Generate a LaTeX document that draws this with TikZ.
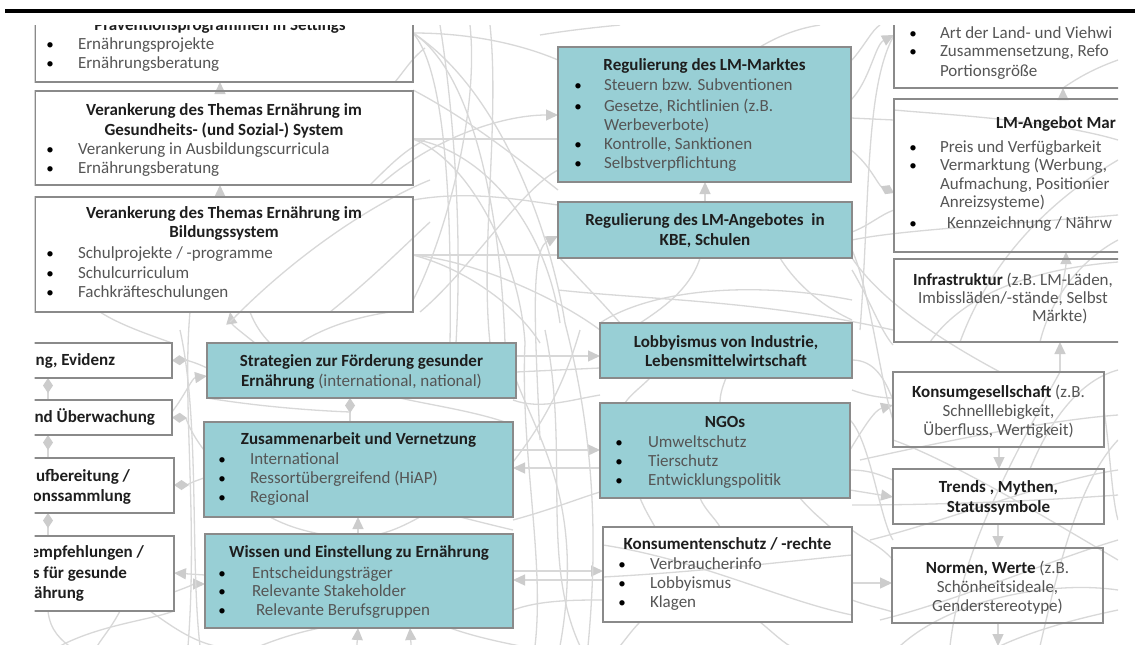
\documentclass[tikz,border=0pt]{standalone}
\usepackage{fontspec}
\setmainfont{Carlito}
\usetikzlibrary{arrows.meta}

\definecolor{boxfill}{RGB}{152,207,213}
\definecolor{boxline}{RGB}{138,138,138}
\definecolor{wirec}{RGB}{216,216,216}
\definecolor{tipc}{RGB}{204,204,204}
\definecolor{titlec}{RGB}{30,30,30}
\definecolor{itemc}{RGB}{85,85,85}

\pgfdeclarelayer{paper}
\pgfdeclarelayer{bg}
\pgfsetlayers{paper,bg,main}

\tikzset{
  every node/.style={inner sep=0pt, outer sep=0pt},
  wbox/.style={draw=boxline, line width=1.1pt},
  tbox/.style={draw=boxline, fill=boxfill, line width=1.1pt},
  wire/.style={draw=wirec, line width=1.3pt},
  endtri/.style={-{Triangle[length=12pt,width=11pt,color=tipc]}},
  enddia/.style={-{Diamond[length=15pt,width=10pt,color=tipc]}},
  ttl/.style={font=\fontsize{17}{20}\selectfont\bfseries, text=titlec},
  itm/.style={font=\fontsize{17}{20}\selectfont, text=itemc},
  blt/.style={font=\fontsize{15}{20}\selectfont, text=black},
}

% box: name, style, x1, y1, x2, y2 (y grows downwards)
\newcommand\bx[6]{\node[#2, minimum width={(#5)-(#3)}, minimum height={(#6)-(#4)}]
  (#1) at ({((#3)+(#5))/2},{((#4)+(#6))/2}) {};}
\newcounter{tl}
\newcommand\tcen[4][ttl]{\stepcounter{tl}\node[#1,anchor=base] (t\arabic{tl}) at (#2,#3) {#4};}
\newcommand\tline[4][itm]{\stepcounter{tl}\node[#1,anchor=base west] (t\arabic{tl}) at (#2,#3) {#4};}
\newcommand\tend[4][ttl]{\stepcounter{tl}\node[#1,anchor=base east] (t\arabic{tl}) at (#2,#3) {#4};}
\newcommand\tbul[4]{\stepcounter{tl}\node[blt,anchor=base] (t\arabic{tl}) at (#1,#3) {•};
  \stepcounter{tl}\node[itm,anchor=base west] (t\arabic{tl}) at (#2,#3) {#4};}

\begin{document}
\begin{tikzpicture}[x=1pt,y=-1pt]
\useasboundingbox (0,0) rectangle (1135,645);
\begin{pgfonlayer}{paper}
\fill[white] (0,0) rectangle (1135,645);
\end{pgfonlayer}
\draw[line width=4.2pt] (5,11) -- (1135,11);

\begin{scope}
\clip (34.5,25) rectangle (1118,646);

% left column
\bx{b1}{wbox}{35}{5}{413}{82}
\bx{b2}{wbox}{35}{91}{413}{185}
\bx{b3}{wbox}{35}{197}{413}{312}
\bx{c1}{wbox}{-100}{343}{172}{378}
\bx{c2}{wbox}{-100}{400}{172}{435}
\bx{c3}{wbox}{-100}{458}{174}{513}
\bx{c4}{wbox}{-100}{536}{174}{611}
% strategy column
\bx{l1}{tbox}{207}{343}{516}{398}
\bx{l2}{tbox}{204}{422}{513}{517}
\bx{l3}{tbox}{205}{534}{513}{628}
% regulation column
\bx{m1}{tbox}{558}{47}{851}{182}
\bx{m2}{tbox}{558}{202}{852}{258}
\bx{m3}{tbox}{600}{323}{852}{378}
\bx{m4}{tbox}{600}{403}{850}{498}
\bx{m5}{wbox}{603}{527}{852}{622}
% environment column
\bx{r1}{wbox}{894}{5}{1300}{88}
\bx{r2}{wbox}{894}{99}{1300}{252}
\bx{r3}{wbox}{894}{259}{1300}{342}
\bx{r4}{wbox}{893}{372}{1104}{447}
\bx{r5}{wbox}{893}{469}{1104}{524}
\bx{r6}{wbox}{892}{548}{1103}{623}

% texts
\tcen{220}{30.5}{Präventionsprogrammen in Settings}
\tbul{50}{78}{49.5}{Ernährungsprojekte}
\tbul{50}{78}{68.5}{Ernährungsberatung}

\tcen{224}{115}{Verankerung des Themas Ernährung im}
\tcen{224}{135}{Gesundheits- (und Sozial-) System}
\tbul{50}{78}{154}{Verankerung in Ausbildungscurricula}
\tbul{50}{78}{173}{Ernährungsberatung}

\tcen{224}{218}{Verankerung des Themas Ernährung im}
\tcen{224}{237}{Bildungssystem}
\tbul{50}{78}{258}{Schulprojekte / -programme}
\tbul{50}{78}{278}{Schulcurriculum}
\tbul{50}{78}{297}{Fachkräfteschulungen}

\tend{115}{365}{ng, Evidenz}
\tend{155}{422}{nd Überwachung}
\tend{130}{481}{ufbereitung /}
\tend{131}{501}{onssammlung}
\tend{144}{557}{empfehlungen /}
\tend{127}{578}{s für gesunde}
\tend{84}{598}{ährung}

\tcen{361.5}{366}{Strategien zur Förderung gesunder}
\tcen{361.5}{386}{Ernährung {\mdseries\color{itemc}(international, national)}}

\tcen{358.5}{444}{Zusammenarbeit und Vernetzung}
\tbul{222}{250}{464}{International}
\tbul{222}{250}{483}{Ressortübergreifend (HiAP)}
\tbul{222}{250}{502}{Regional}

\tcen{359}{557}{Wissen und Einstellung zu Ernährung}
\tbul{222}{252}{578}{Entscheidungsträger}
\tbul{222}{252}{596}{Relevante Stakeholder}
\tbul{222}{256}{615}{Relevante Berufsgruppen}

\tcen{704.5}{70}{Regulierung des LM-Marktes}
\tbul{578}{604}{90}{Steuern bzw. Subventionen}
\tbul{578}{604}{111}{Gesetze, Richtlinien (z.B.}
\tline{604}{130}{Werbeverbote)}
\tbul{578}{604}{149}{Kontrolle, Sanktionen}
\tbul{578}{604}{168}{Selbstverpflichtung}

\tcen{705}{225}{Regulierung des LM-Angebotes\ \ in}
\tcen{705}{245}{KBE, Schulen}

\tcen{726}{347}{Lobbyismus von Industrie,}
\tcen{726}{366}{Lebensmittelwirtschaft}

\tcen{725}{427}{NGOs}
\tbul{619}{648}{447}{Umweltschutz}
\tbul{619}{648}{466}{Tierschutz}
\tbul{619}{648}{485}{Entwicklungspolitik}

\tcen{727.5}{549}{Konsumentenschutz / -rechte}
\tbul{622}{650}{569}{Verbraucherinfo}
\tbul{622}{650}{588}{Lobbyismus}
\tbul{622}{650}{607}{Klagen}

\tbul{913}{940}{38}{Art der Land- und Viehwi}
\tbul{913}{940}{56}{Zusammensetzung, Refo}
\tline{940}{76}{Portionsgröße}

\tline[ttl]{996}{128}{LM-Angebot Mar}
\tbul{913}{940}{152}{Preis und Verfügbarkeit}
\tbul{913}{940}{170}{Vermarktung (Werbung,}
\tline{940}{189}{Aufmachung, Positionier}
\tline{940}{207}{Anreizsysteme)}
\tbul{913}{947}{228}{Kennzeichnung / Nährw}

\tline{913}{285}{{\bfseries\color{titlec}Infrastruktur} (z.B. LM-Läden,}
\tline{918}{303}{Imbissläden/-stände, Selbst}
\tline{1032}{321}{Märkte)}

\tcen{998.5}{397}{Konsumgesellschaft {\mdseries\color{itemc}(z.B.}}
\tcen[itm]{998.5}{416}{Schnelllebigkeit,}
\tcen[itm]{998.5}{435}{Überfluss, Wertigkeit)}

\tcen{998.5}{492}{Trends , Mythen,}
\tcen{998.5}{512}{Statussymbole}

\tcen{997.5}{573}{Normen, Werte {\mdseries\color{itemc}(z.B.}}
\tcen[itm]{997.5}{592}{Schönheitsideale,}
\tcen[itm]{997.5}{611}{Genderstereotype)}
\end{scope}

% connectors, drawn underneath the boxes
\begin{pgfonlayer}{bg}
\begin{scope}
\clip (34.5,25) rectangle (1118,646);

% arrows between neighbouring boxes
\draw[wire,endtri] (b2.north -| 220,0) -- (b1.south -| 220,0);
\draw[wire,endtri] (b3.north -| 220,0) -- (b2.south -| 220,0);
\draw[wire,endtri] (l1.north -| 255,0) .. controls (245,335) and (232,325) .. (b3.south -| 230,0);
\draw[wire,enddia] (c2.north -| 48,0) -- (c1.south -| 48,0);
\draw[wire,enddia] (c3.north -| 48,0) -- (c2.south -| 48,0);
\draw[wire,enddia] (c4.north -| 48,0) -- (c3.south -| 48,0);
\draw[wire,enddia] (l1.west |- 0,368) .. controls (195,362) and (185,360) .. (c1.east);
\draw[wire,endtri] (c2.east |- 0,412) .. controls (185,395) and (192,378) .. (l1.west |- 0,376);
\draw[wire,enddia] (l2.west |- 0,450) .. controls (190,432) and (186,418) .. (c2.east);
\draw[wire,enddia] (l2.west |- 0,478) .. controls (192,482) and (186,485) .. (c3.east |- 0,485);
\draw[wire,endtri] (l3.west |- 0,575) -- (c4.east |- 0,573);
\draw[wire,endtri] (c4.east |- 0,592) .. controls (185,588) and (195,584) .. (l3.west |- 0,584);
\draw[wire,enddia] (l2.north -| 350,0) -- (l1.south -| 350,0);
\draw[wire,endtri] (l3.north -| 358,0) -- (l2.south -| 358,0);
\coordinate (lb1) at (356,660);
\coordinate (lb2) at (412,660);
\draw[wire,endtri] (lb1) -- (l3.south -| 358,0);
\draw[wire,endtri] (lb2) -- (l3.south -| 410,0);
\draw[wire,endtri] (b2.south -| 380,0) .. controls (430,140) and (500,115) .. (m1.west |- 0,115);
\coordinate (lm1) at (540,440);
\draw[wire,endtri] (lm1) .. controls (535,330) and (530,250) .. (m2.west |- 0,236);
\draw[wire] (b2.east |- 0,139) -- (m1.west |- 0,139);
\draw[wire] (b3.east |- 0,255) -- (m2.west |- 0,255);
\draw[wire,endtri] (m2.north -| 705,0) -- (m1.south -| 705,0);
\draw[wire,endtri] (l1.east |- 0,356) -- (m3.west |- 0,356);
\draw[wire] (l1.east |- 0,372) -- (m3.west |- 0,368);
\draw[wire,endtri] (l2.east |- 0,450) -- (m4.west |- 0,450);
\draw[wire,endtri] (m4.west |- 0,468) -- (l2.east |- 0,468);
\draw[wire,endtri] (l3.east |- 0,571) -- (m5.west |- 0,571);
\draw[wire,endtri] (m5.west |- 0,580) -- (l3.east |- 0,580);
\draw[wire,endtri] (m1.east |- 0,100) .. controls (870,80) and (875,45) .. (r1.west |- 0,35);
\draw[wire,enddia] (m1.east |- 0,150) .. controls (870,165) and (878,185) .. (r2.west |- 0,193);
\draw[wire,endtri] (m4.east |- 0,450) .. controls (865,425) and (875,410) .. (r4.west |- 0,405);
\draw[wire,endtri] (m4.east |- 0,490) -- (r5.west |- 0,497);
\draw[wire,endtri] (m5.east |- 0,583) -- (r6.west |- 0,583);
\draw[wire,endtri] (r2.north -| 1063,0) -- (r1.south -| 1063,0);
\draw[wire,endtri] (r3.center -| 1060,0) .. controls (1062,285) and (1066,268) .. (r2.south -| 1066,0);
\draw[wire,endtri] (r4.north -| 1060,0) -- (r3.south -| 1060,0);
\draw[wire,endtri] (r4.south -| 999,0) -- (r5.north -| 999,0);
\draw[wire,endtri] (r5.south -| 998,0) -- (r6.north -| 998,0);
\coordinate (rb) at (998,646);
\draw[wire,endtri] (r6.south -| 998,0) -- (rb);

% the wider web of influences
\draw[wire] (413,33) .. controls (480,33) and (530,48) .. (558,60);
\draw[wire] (413,33) .. controls (445,70) and (452,200) .. (450,345);
\draw[wire] (413,33) .. controls (470,70) and (500,200) .. (505,343);
\draw[wire] (413,33) .. controls (500,90) and (550,230) .. (565,323);
\draw[wire] (440,25) .. controls (455,120) and (462,240) .. (456,343);
\draw[wire] (413,139) .. controls (480,150) and (545,220) .. (560,323);
\draw[wire] (413,139) .. controls (470,160) and (520,260) .. (525,343);
\draw[wire] (413,255) .. controls (480,262) and (560,300) .. (600,330);
\draw[wire] (413,255) .. controls (470,270) and (520,310) .. (540,343);
\draw[wire] (420,312) .. controls (470,270) and (520,190) .. (558,170);
\draw[wire] (230,322) .. controls (300,250) and (380,200) .. (430,180);
\draw[wire] (330,312) .. controls (370,280) and (400,250) .. (430,222);
\draw[wire] (370,185) .. controls (390,165) and (405,150) .. (425,140);
\draw[wire] (395,82) .. controls (405,70) and (412,58) .. (425,48);
\draw[wire] (300,343) .. controls (320,330) and (350,318) .. (390,312);
\draw[wire] (413,300) .. controls (440,250) and (480,120) .. (470,25);
\draw[wire] (413,200) .. controls (470,190) and (520,200) .. (558,205);
\draw[wire] (413,90) .. controls (470,120) and (520,160) .. (558,190);
\draw[wire] (490,25) .. controls (500,120) and (480,250) .. (490,343);
\draw[wire] (250,312) .. controls (255,325) and (262,335) .. (270,343);
\draw[wire] (100,312) .. controls (120,325) and (150,335) .. (172,343);
\draw[wire] (190,312) .. controls (182,400) and (198,520) .. (188,646);
\draw[wire] (180,330) .. controls (200,420) and (190,560) .. (200,646);
\draw[wire] (150,611) .. controls (170,625) and (190,640) .. (215,646);
\draw[wire] (60,646) .. controls (100,625) and (150,620) .. (174,611);
\draw[wire] (48,611) .. controls (50,630) and (60,640) .. (75,650);
\draw[wire] (120,611) .. controls (110,630) and (100,640) .. (95,650);
\draw[wire] (207,398) .. controls (250,405) and (300,410) .. (350,412);
\draw[wire] (400,398) .. controls (430,405) and (480,412) .. (513,425);
\draw[wire] (270,517) .. controls (285,525) and (300,530) .. (320,534);
\draw[wire] (420,517) .. controls (405,525) and (395,530) .. (380,534);
\draw[wire] (460,517) .. controls (480,522) and (500,527) .. (513,530);
\draw[wire] (260,646) .. controls (280,638) and (300,632) .. (320,628);
\draw[wire] (450,628) .. controls (470,635) and (490,640) .. (520,646);
\draw[wire] (525,343) .. controls (520,450) and (545,560) .. (535,646);
\draw[wire] (545,330) .. controls (570,450) and (540,560) .. (580,646);
\draw[wire] (565,323) .. controls (590,420) and (600,520) .. (588,646);
\draw[wire] (505,343) .. controls (520,420) and (590,480) .. (560,646);
\draw[wire] (580,330) .. controls (560,400) and (530,440) .. (513,462);
\draw[wire] (513,520) .. controls (550,510) and (580,498) .. (600,492);
\draw[wire] (513,400) .. controls (540,410) and (570,400) .. (600,395);
\draw[wire] (513,610) .. controls (540,600) and (575,600) .. (603,600);
\draw[wire] (600,323) .. controls (650,290) and (750,280) .. (852,300);
\draw[wire] (558,290) .. controls (650,300) and (760,300) .. (893,330);
\draw[wire] (700,258) .. controls (690,290) and (660,310) .. (640,323);
\draw[wire] (780,258) .. controls (800,290) and (830,310) .. (852,320);
\draw[wire] (560,258) .. controls (580,280) and (600,300) .. (620,323);
\draw[wire] (726,378) .. controls (722,388) and (720,395) .. (720,403);
\draw[wire] (650,378) .. controls (640,388) and (630,395) .. (625,403);
\draw[wire] (700,498) .. controls (705,510) and (715,518) .. (720,527);
\draw[wire] (640,498) .. controls (645,510) and (650,518) .. (655,527);
\draw[wire] (800,498) .. controls (810,510) and (820,518) .. (830,527);
\draw[wire] (603,577) .. controls (700,572) and (800,560) .. (852,555);
\draw[wire] (603,545) .. controls (700,560) and (780,600) .. (852,615);
\draw[wire] (640,622) .. controls (632,630) and (625,640) .. (620,646);
\draw[wire] (760,622) .. controls (770,630) and (780,640) .. (790,646);
\draw[wire] (852,600) .. controls (865,605) and (880,608) .. (893,612);
\draw[wire] (540,35) .. controls (570,30) and (600,27) .. (620,25);
\draw[wire] (760,47) .. controls (780,35) and (800,28) .. (820,25);
\draw[wire] (852,60) .. controls (865,45) and (872,30) .. (880,25);
\draw[wire] (860,330) .. controls (870,200) and (865,90) .. (893,37);
\draw[wire] (851,118) -- (894,120);
\draw[wire] (852,232) .. controls (870,225) and (880,215) .. (894,210);
\draw[wire] (852,250) .. controls (870,290) and (880,380) .. (893,420);
\draw[wire] (852,258) .. controls (880,300) and (940,340) .. (1000,372);
\draw[wire] (852,360) .. controls (875,360) and (885,380) .. (893,400);
\draw[wire] (850,420) .. controls (870,440) and (880,520) .. (893,540);
\draw[wire] (852,270) .. controls (870,300) and (880,330) .. (893,345);
\draw[wire] (852,390) .. controls (865,395) and (880,398) .. (893,398);
\draw[wire] (850,470) .. controls (870,470) and (880,475) .. (893,480);
\draw[wire] (852,530) .. controls (865,540) and (880,545) .. (893,560);
\draw[wire] (852,240) .. controls (900,230) and (1000,225) .. (1118,215);
\draw[wire] (1118,160) .. controls (1050,200) and (990,260) .. (960,342);
\draw[wire] (1118,240) .. controls (1080,260) and (1050,300) .. (1040,342);
\draw[wire] (930,342) .. controls (960,300) and (1020,270) .. (1118,262);
\draw[wire] (894,110) .. controls (950,115) and (1050,120) .. (1118,140);
\draw[wire] (1118,60) .. controls (1090,70) and (1075,80) .. (1063,88);
\draw[wire] (860,460) .. controls (950,440) and (1050,420) .. (1118,415);
\draw[wire] (870,540) .. controls (950,520) and (1050,480) .. (1118,470);
\draw[wire] (880,620) .. controls (960,600) and (1050,560) .. (1118,540);
\draw[wire] (900,646) .. controls (950,600) and (1050,580) .. (1118,590);
\draw[wire] (1040,646) .. controls (1060,560) and (1080,480) .. (1118,440);
\draw[wire] (1104,410) .. controls (1110,450) and (1112,500) .. (1118,520);
\draw[wire] (950,646) .. controls (960,560) and (1000,480) .. (1060,372);
\draw[wire] (852,505) .. controls (950,505) and (1050,500) .. (1118,495);
\draw[wire] (1118,370) .. controls (1080,380) and (1050,420) .. (1030,469);
\draw[wire] (893,440) .. controls (950,460) and (1050,520) .. (1118,560);
\draw[wire] (1118,610) .. controls (1070,620) and (1030,632) .. (1000,646);
\end{scope}
\end{pgfonlayer}
\end{tikzpicture}
\end{document}
